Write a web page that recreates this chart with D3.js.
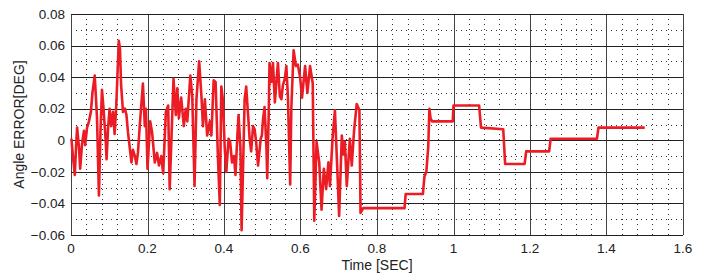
<!DOCTYPE html>
<html>
<head>
<meta charset="utf-8">
<script src="https://cdn.jsdelivr.net/npm/d3@7"></script>
<style>
  body { margin: 0; background: #fff; }
  svg text { font-family: "Liberation Sans", Arial, sans-serif; fill: #222; }
</style>
</head>
<body>
<div id="chart"></div>
<script>
// chart values
const timeSec = [
  0.001, 0.005, 0.010, 0.013, 0.016, 0.021, 0.024, 0.029, 0.034, 0.037,
  0.042, 0.047, 0.052, 0.056, 0.062, 0.065, 0.068, 0.073, 0.077, 0.081,
  0.085, 0.091, 0.093, 0.097, 0.101, 0.105, 0.110, 0.114, 0.118, 0.122,
  0.125, 0.128, 0.131, 0.136, 0.141, 0.145, 0.149, 0.158, 0.162, 0.167,
  0.171, 0.175, 0.180, 0.188, 0.193, 0.196, 0.200, 0.207, 0.212, 0.219,
  0.225, 0.230, 0.236, 0.241, 0.248, 0.254, 0.258, 0.268, 0.274, 0.278,
  0.282, 0.288, 0.295, 0.300, 0.304, 0.312, 0.317, 0.323, 0.328, 0.335,
  0.341, 0.345, 0.350, 0.356, 0.363, 0.367, 0.373, 0.378, 0.384, 0.389,
  0.393, 0.397, 0.402, 0.406, 0.412, 0.416, 0.421, 0.426, 0.430, 0.435,
  0.438, 0.443, 0.446, 0.454, 0.458, 0.463, 0.467, 0.471, 0.476, 0.480,
  0.484, 0.489, 0.496, 0.499, 0.502, 0.506, 0.511, 0.513, 0.517, 0.519,
  0.524, 0.528, 0.533, 0.537, 0.541, 0.546, 0.550, 0.554, 0.559, 0.563,
  0.567, 0.573, 0.576, 0.582, 0.588, 0.593, 0.599, 0.604, 0.612, 0.618,
  0.625, 0.632, 0.636, 0.642, 0.649, 0.655, 0.661, 0.667, 0.673, 0.677,
  0.684, 0.690, 0.696, 0.701, 0.708, 0.712, 0.716, 0.721, 0.729, 0.734,
  0.740, 0.747, 0.754, 0.757, 0.764,
  0.872, 0.875, 0.920, 0.924, 0.929, 0.934, 0.937, 0.940, 0.944, 0.998,
  1.000, 1.067, 1.072, 1.130, 1.135, 1.186, 1.190, 1.250, 1.254, 1.375,
  1.379, 1.500
];
const angleErr = [
  0.001, -0.010, -0.022, -0.005, 0.008, -0.005, -0.018, -0.002, 0.006, -0.003,
  0.008, 0.012, 0.018, 0.030, 0.041, 0.028, 0.014, -0.035, 0.005, 0.032,
  0.020, -0.001, -0.012, 0.008, 0.020, 0.009, 0.018, 0.004, 0.020, 0.045,
  0.063, 0.058, 0.035, 0.018, 0.020, 0.016, 0.005, -0.014, -0.006, -0.010,
  -0.015, -0.008, 0.010, 0.036, 0.009, 0.020, -0.018, 0.012, 0.005, -0.014,
  -0.008, -0.016, -0.010, -0.021, 0.018, 0.022, -0.031, 0.039, 0.016, 0.033,
  0.014, 0.027, 0.009, 0.020, 0.012, 0.041, 0.028, -0.029, 0.026, 0.050,
  0.028, 0.009, 0.026, 0.003, 0.012, 0.003, 0.038, 0.037, -0.010, -0.041,
  0.034, 0.026, -0.005, -0.020, 0.001, -0.001, -0.014, -0.010, -0.022, 0.003,
  0.016, -0.005, -0.057, 0.026, 0.034, 0.016, 0.001, -0.007, 0.009, 0.007,
  -0.001, -0.016, 0.001, 0.003, 0.013, 0.021, -0.005, -0.024, 0.018, 0.049,
  0.037, 0.049, 0.024, 0.037, 0.049, 0.028, 0.026, 0.035, 0.039, 0.047,
  0.028, -0.028, 0.020, 0.057, 0.047, 0.048, 0.040, 0.027, 0.047, 0.030,
  0.047, 0.036, -0.051, -0.001, -0.014, -0.044, -0.018, -0.031, -0.014, -0.029,
  0.002, 0.019, -0.017, -0.048, 0.003, -0.009, -0.001, -0.029, 0.001, -0.016,
  0.006, 0.023, 0.019, -0.046, -0.043,
  -0.043, -0.034, -0.034, -0.023, -0.020, -0.004, 0.020, 0.014, 0.012, 0.012,
  0.022, 0.022, 0.008, 0.007, -0.015, -0.015, -0.007, -0.007, 0.001, 0.001,
  0.008, 0.008
];
const xTicks = [0, 0.2, 0.4, 0.6, 0.8, 1, 1.2, 1.4, 1.6];
const yTicks = [-0.06, -0.04, -0.02, 0, 0.02, 0.04, 0.06, 0.08];
const xLabel = "Time [SEC]";
const yLabel = "Angle ERROR[DEG]";

const width = 705, height = 274;
const margin = {top: 14, right: 22, bottom: 39, left: 71};

const svg = d3.select("#chart").append("svg")
    .attr("width", width)
    .attr("height", height);

const x = d3.scaleLinear().domain([0, 1.6]).range([margin.left, width - margin.right]);
const y = d3.scaleLinear().domain([-0.06, 0.08]).range([height - margin.bottom, margin.top]);

const snap = v => Math.round(v) + 0.5;

// minor dotted grid
const xMinor = d3.range(0, 1.6001, 0.04).filter(v => Math.abs(v / 0.2 - Math.round(v / 0.2)) > 1e-6);
const yMinor = d3.range(-0.05, 0.08, 0.02);

svg.append("g").selectAll("line")
    .data(xMinor)
    .join("line")
    .attr("x1", d => snap(x(d))).attr("x2", d => snap(x(d)))
    .attr("y1", y(0.08)).attr("y2", y(-0.06))
    .attr("stroke", "#333")
    .attr("stroke-dasharray", "1,4");

svg.append("g").selectAll("line")
    .data(yMinor)
    .join("line")
    .attr("y1", d => snap(y(d))).attr("y2", d => snap(y(d)))
    .attr("x1", x(0)).attr("x2", x(1.6))
    .attr("stroke", "#333")
    .attr("stroke-dasharray", "1,4");

// major solid grid
svg.append("g").selectAll("line")
    .data(xTicks)
    .join("line")
    .attr("x1", d => snap(x(d))).attr("x2", d => snap(x(d)))
    .attr("y1", y(0.08)).attr("y2", y(-0.06))
    .attr("stroke", "#444");

svg.append("g").selectAll("line")
    .data(yTicks)
    .join("line")
    .attr("y1", d => snap(y(d))).attr("y2", d => snap(y(d)))
    .attr("x1", x(0)).attr("x2", x(1.6))
    .attr("stroke", "#222");

// signal
const line = d3.line()
    .x((d, i) => x(timeSec[i]))
    .y(d => y(d));

svg.append("path")
    .datum(angleErr)
    .attr("fill", "none")
    .attr("stroke", "#ec1c24")
    .attr("stroke-width", 2.6)
    .attr("stroke-linejoin", "round")
    .attr("d", line);

// tick labels
svg.append("g").selectAll("text")
    .data(yTicks)
    .join("text")
    .attr("x", x(0) - 6)
    .attr("y", d => y(d))
    .attr("dy", "0.35em")
    .attr("text-anchor", "end")
    .attr("font-size", 13.5)
    .text(d => d3.format("~g")(d));

svg.append("g").selectAll("text")
    .data(xTicks)
    .join("text")
    .attr("x", d => x(d))
    .attr("y", y(-0.06) + 18)
    .attr("text-anchor", "middle")
    .attr("font-size", 13.5)
    .text(d => d3.format("~g")(d));

// axis titles
svg.append("text")
    .attr("x", (x(0) + x(1.6)) / 2)
    .attr("y", height - 4)
    .attr("text-anchor", "middle")
    .attr("font-size", 14)
    .text(xLabel);

svg.append("text")
    .attr("transform", `translate(24,${(y(0.08) + y(-0.06)) / 2}) rotate(-90)`)
    .attr("text-anchor", "middle")
    .attr("font-size", 14)
    .text(yLabel);
</script>
</body>
</html>
